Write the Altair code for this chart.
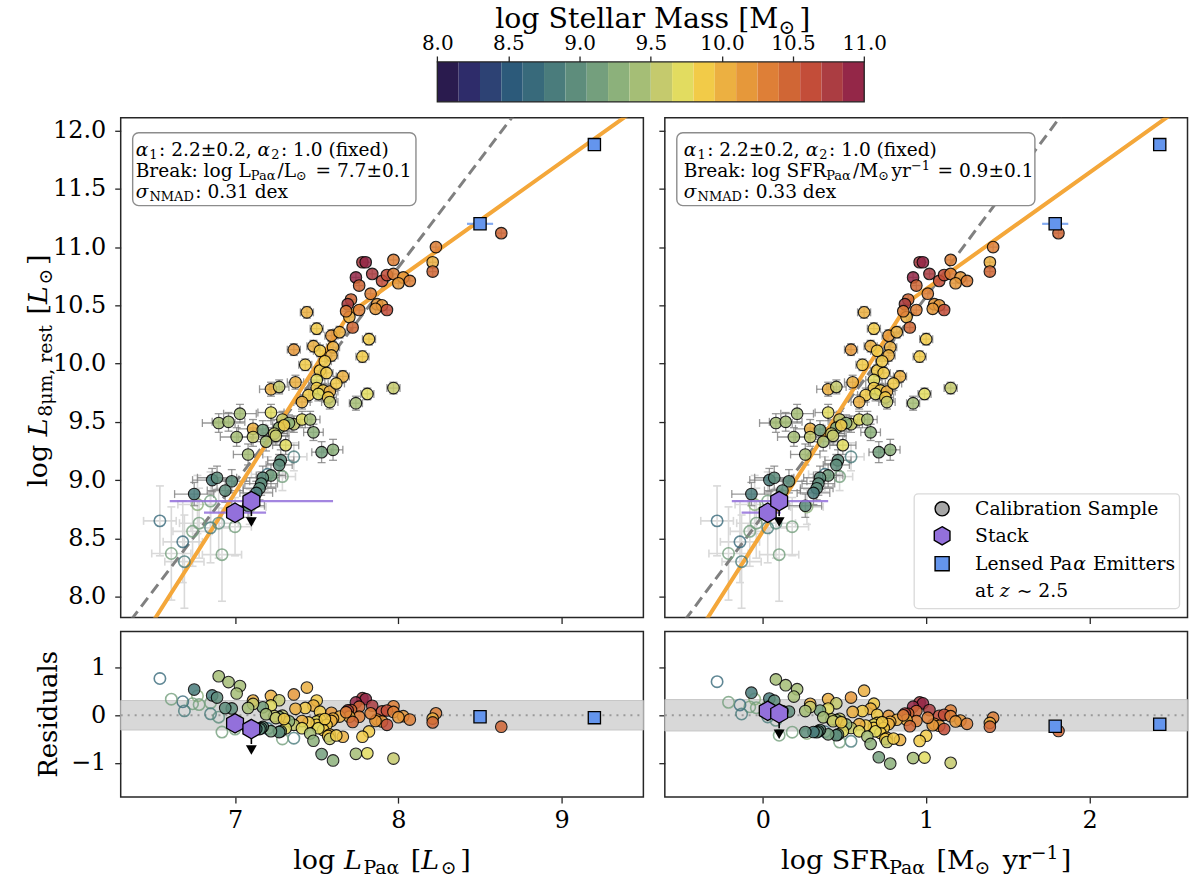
import glob
import struct

import altair as alt
import numpy as np
import pandas as pd

FONT = "DejaVu Serif"

# ---------------------------------------------------------------- colour map
# stellar-mass colour bar: 20 discrete steps between 8.0 and 11.0
MASS_RANGE = [8.0, 11.0]
MASS_COLORS = ["#2a1b4e", "#2e2c6a", "#2d4274", "#2c5a7a", "#386a7b", "#4a7c7c",
               "#5e8d7c", "#749f7d", "#8cb17b", "#a5be76", "#c5ca6d", "#e2dc60",
               "#f2cb48", "#ecb041", "#e6983a", "#de7f37", "#d06635", "#c34d39",
               "#ab3d42", "#942748"]
MASS_TICKS = [8.0, 8.5, 9.0, 9.5, 10.0, 10.5, 11.0]

# ---------------------------------------------------------------- calibration sample
log_lpa = [8.63, 8.23, 8.21, 8.21, 7.78, 7.80, 7.97, 7.84, 7.74, 7.76,
           7.90, 7.93, 7.97, 8.03, 8.07, 8.00, 7.71, 7.69, 7.76, 7.87,
           7.90, 7.93, 7.86, 7.70, 7.72, 7.44, 7.50, 7.59, 7.64, 7.82,
           7.60, 7.48, 7.52, 7.36, 7.59, 7.78, 7.43, 7.52, 7.56, 7.66,
           7.50, 7.37, 7.22, 7.27, 7.50, 7.54, 7.58, 7.45, 7.51, 7.57,
           7.58, 7.41, 7.74, 7.81, 7.97, 7.22, 7.03, 6.90, 6.96, 7.29,
           7.36, 7.41, 7.46, 7.33, 7.11, 7.17, 7.27, 7.24, 7.01, 7.11,
           7.19, 7.48, 7.31, 7.08, 7.53, 7.60, 7.28, 7.27, 7.22, 7.17,
           7.16, 7.15, 7.13, 6.86, 6.89, 6.98, 6.94, 6.75, 7.08, 7.25,
           7.30, 7.62, 7.55, 7.68, 7.83,
           6.54, 6.85, 6.77, 6.78, 6.74, 6.85, 6.90, 7.00, 6.68, 6.61,
           6.69, 6.92, 7.36, 7.29, 7.09, 7.20]
log_l8 = [11.12, 11.00, 10.87, 10.79, 10.87, 10.87, 10.89, 10.77, 10.74, 10.67,
          10.71, 10.76, 10.77, 10.74, 10.71, 10.69, 10.55, 10.51, 10.46, 10.51,
          10.50, 10.46, 10.47, 10.40, 10.31, 10.44, 10.30, 10.24, 10.27, 10.21,
          10.14, 10.15, 10.11, 10.12, 10.07, 10.06, 9.99, 9.94, 9.92, 9.89,
          9.86, 9.84, 9.78, 9.80, 9.79, 9.77, 9.76, 9.73, 9.74, 9.71,
          9.67, 9.67, 9.66, 9.74, 9.79, 9.58, 9.57, 9.49, 9.50, 9.52,
          9.48, 9.52, 9.52, 9.49, 9.44, 9.43, 9.45, 9.40, 9.37, 9.37,
          9.33, 9.41, 9.30, 9.22, 9.24, 9.26, 9.17, 9.13, 9.04, 9.02,
          8.97, 8.93, 8.89, 9.00, 9.02, 8.99, 8.91, 8.88, 8.78, 9.38,
          9.47, 9.83, 10.02, 10.45, 10.60,
          8.65, 8.82, 8.79, 8.63, 8.56, 8.59, 8.63, 8.60, 8.47, 8.37,
          8.30, 8.36, 9.20, 9.03, 8.77, 9.05]
log_mass = [10.45, 10.30, 10.05, 10.50, 10.75, 10.90, 10.30, 10.75, 10.90, 10.45,
            10.60, 10.60, 10.30, 10.20, 10.30, 10.20, 10.45, 10.75, 10.30, 10.15,
            10.15, 10.60, 10.20, 10.05, 10.45, 10.00, 9.90, 10.15, 10.05, 9.90,
            10.05, 10.05, 9.90, 10.15, 10.00, 9.85, 9.80, 9.85, 9.80, 10.00,
            9.65, 10.00, 10.00, 9.60, 9.80, 9.85, 10.00, 9.85, 9.70, 9.85,
            9.55, 10.00, 9.40, 9.75, 9.60, 9.75, 9.45, 9.45, 9.45, 9.60,
            9.60, 9.75, 9.40, 9.30, 10.00, 9.15, 9.30, 9.60, 9.45, 9.55,
            9.45, 9.30, 9.75, 9.45, 9.10, 9.30, 9.00, 9.00, 9.10, 9.00,
            9.00, 9.00, 8.85, 8.85, 9.00, 9.00, 9.00, 8.85, 9.00, 9.55,
            9.80, 9.90, 9.90, 10.30, 10.30,
            8.70, 9.10, 9.30, 9.10, 9.10, 8.80, 8.95, 9.10, 8.70, 9.10,
            8.80, 9.10, 8.80, 9.10, 9.20, 8.70]
# 1 = drawn as an open marker
is_open = [0] * 95 + [1] * 16
err_lpa = [0.03] * 25 + [0.04] * 15 + [0.05, 0.05, 0.07, 0.06, 0.05, 0.05, 0.05, 0.05, 0.05, 0.05,
                                        0.05, 0.05, 0.04, 0.04, 0.04, 0.08, 0.10, 0.10, 0.10, 0.07,
                                        0.07, 0.06, 0.06, 0.07, 0.09, 0.09, 0.08, 0.08, 0.10, 0.09,
                                        0.09, 0.06, 0.08, 0.09, 0.06, 0.06, 0.08, 0.08, 0.09, 0.10,
                                        0.10, 0.10, 0.10, 0.12, 0.12, 0.11, 0.11, 0.12, 0.10, 0.08,
                                        0.07, 0.05, 0.04, 0.03, 0.03] + \
          [0.10, 0.12, 0.12, 0.12, 0.12, 0.12, 0.12, 0.10, 0.12, 0.12,
           0.12, 0.12, 0.08, 0.08, 0.10, 0.10]
err_l8 = [0.04] * 25 + [0.05] * 15 + [0.06, 0.06, 0.06, 0.06, 0.06, 0.06, 0.06, 0.06, 0.06, 0.06,
                                       0.06, 0.06, 0.06, 0.05, 0.05, 0.07, 0.08, 0.08, 0.08, 0.07,
                                       0.07, 0.07, 0.07, 0.07, 0.08, 0.08, 0.07, 0.08, 0.08, 0.08,
                                       0.08, 0.07, 0.08, 0.09, 0.09, 0.09, 0.09, 0.09, 0.10, 0.10,
                                       0.10, 0.10, 0.10, 0.10, 0.10, 0.10, 0.10, 0.10, 0.10, 0.08,
                                       0.07, 0.06, 0.05, 0.04, 0.04] + \
         [0.30, 0.25, 0.25, 0.30, 0.30, 0.30, 0.30, 0.25, 0.35, 0.40,
          0.40, 0.40, 0.12, 0.12, 0.15, 0.15]
# log L_Pa-alpha -> log SFR_Pa-alpha conversion for the calibration galaxies
SFR_OFFSET = 6.82

# ---------------------------------------------------------------- stacks
stack_lpa = [7.00, 7.10]
stack_lpa_lo = [6.81, 6.60]
stack_lpa_hi = [7.19, 7.60]
stack_sfr = [0.03, 0.10]
stack_sfr_lo = [-0.13, -0.19]
stack_sfr_hi = [0.11, 0.40]
stack_l8 = [8.72, 8.82]
stack_upper = [0, 1]

# ---------------------------------------------------------------- lensed emitters at z~2.5
lens_lpa = [8.50, 9.20]
lens_lpa_err = [0.08, 0.0]
lens_sfr = [1.79, 2.43]
lens_sfr_err = [0.08, 0.0]
lens_l8 = [11.20, 11.88]

# ---------------------------------------------------------------- fits
# broken power law: slope a1 below the break (bx, by), a2 above
FIT_L = {"bx": 7.7, "by": 10.43, "a1": 2.2, "a2": 1.0, "sigma": 0.31}
FIT_S = {"bx": 0.9, "by": 10.54, "a1": 2.2, "a2": 1.0, "sigma": 0.33}
# single power law drawn dashed: slope and one point on it
DASH_L = {"slope": 1.85, "x0": 6.38, "y0": 7.83}
DASH_S = {"slope": 1.88, "x0": -0.46, "y0": 7.83}

# ---------------------------------------------------------------- layout
W, H_TOP, H_RES = 524, 501, 166
Y_DOM = [7.82, 12.11]
Y_TICKS = [8.0, 8.5, 9.0, 9.5, 10.0, 10.5, 11.0, 11.5, 12.0]
R_DOM = [-1.72, 1.76]
COL_GAP = 17.5
CB_W, CB_H = 2 * W + COL_GAP, 40
CB_PIX = [317.4, 745.4]          # where 8.0 and 11.0 fall along the bar chart
HEX = "M0,-1L0.866,-0.5L0.866,0.5L0,1L-0.866,0.5L-0.866,-0.5Z"
PURPLE, BLUE, ORANGE = "#9370DB", "#6495ED", "#f4a73a"
TXT_BOX, TXT_LEG, TXT_TITLE, TXT_CB = 18.6, 18.8, 27, 28.5

ONE = pd.DataFrame({"_": [0]})


# ---------------------------------------------------------------- text metrics
class FontWidths:
    """Advance widths (in em) read from a TrueType file's hmtx/cmap tables."""

    def __init__(self, path):
        d = open(path, "rb").read()
        self.d = d
        n = struct.unpack(">H", d[4:6])[0]
        tab = {}
        for i in range(n):
            tag, _, off, ln = struct.unpack(">4sIII", d[12 + 16 * i:28 + 16 * i])
            tab[tag.decode("latin-1")] = off
        self.upem = struct.unpack(">H", d[tab["head"] + 18:tab["head"] + 20])[0]
        nhm = struct.unpack(">H", d[tab["hhea"] + 34:tab["hhea"] + 36])[0]
        hm = tab["hmtx"]
        self.adv = [struct.unpack(">H", d[hm + 4 * i:hm + 4 * i + 2])[0] for i in range(nhm)]
        cm = tab["cmap"]
        nsub = struct.unpack(">H", d[cm + 2:cm + 4])[0]
        self.seg = None
        for i in range(nsub):
            pid, eid, off = struct.unpack(">HHI", d[cm + 4 + 8 * i:cm + 12 + 8 * i])
            sub = cm + off
            if pid == 3 and eid == 1 and struct.unpack(">H", d[sub:sub + 2])[0] == 4:
                sx2 = struct.unpack(">H", d[sub + 6:sub + 8])[0]
                ns = sx2 // 2
                e0 = sub + 14
                s0 = e0 + sx2 + 2
                d0 = s0 + sx2
                r0 = d0 + sx2
                self.seg = (struct.unpack(f">{ns}H", d[e0:e0 + sx2]),
                            struct.unpack(f">{ns}H", d[s0:s0 + sx2]),
                            struct.unpack(f">{ns}h", d[d0:d0 + sx2]),
                            struct.unpack(f">{ns}H", d[r0:r0 + sx2]), r0)
                break

    def glyph(self, c):
        ends, starts, deltas, ros, r0 = self.seg
        for k, e in enumerate(ends):
            if c <= e:
                if c < starts[k]:
                    return 0
                if ros[k] == 0:
                    return (c + deltas[k]) & 0xFFFF
                a = r0 + 2 * k + ros[k] + 2 * (c - starts[k])
                g = struct.unpack(">H", self.d[a:a + 2])[0]
                return (g + deltas[k]) & 0xFFFF if g else 0
        return 0

    def width(self, ch):
        if self.seg is None:
            return None
        g = self.glyph(ord(ch))
        if not g:
            return None
        return self.adv[min(g, len(self.adv) - 1)] / self.upem


def load_font(name):
    for root in ("/usr/share/fonts", "/usr/local/share/fonts", "/usr/share/fonts-dejavu",
                 "/usr/lib", "/opt"):
        hits = glob.glob(f"{root}/**/{name}", recursive=True)
        if hits:
            try:
                return FontWidths(hits[0])
            except Exception:
                return None
    return None


F_REG = load_font("DejaVuSerif.ttf")
F_ITA = load_font("DejaVuSerif-Italic.ttf")
F_SANS = load_font("DejaVuSans.ttf")

EM = {" ": 0.318, ".": 0.318, ",": 0.318, ":": 0.337, "(": 0.390, ")": 0.390,
      "[": 0.390, "]": 0.390, "/": 0.337, "=": 0.838, "±": 0.838, "−": 0.838,
      "~": 0.838, "-": 0.338, "α": 0.66, "σ": 0.63, "μ": 0.66, "⊙": 0.838}


def char_width(c, italic):
    for f in ((F_ITA if italic else F_REG), F_REG, F_SANS):
        if f is not None:
            w = f.width(c)
            if w is not None:
                return w
    if c.isdigit():
        return 0.636
    return EM.get(c, 0.6)


def seg_width(t, size, italic=False):
    return sum(char_width(c, italic) for c in t) * size


def rich_text(segments, x, y, size, align="left", angle=0, color="black"):
    """Text with sub/superscripts built from several text marks."""
    sizes = [size * 0.7 if k in ("sub", "sup") else size for _, k in segments]
    widths = []
    for (t, k), s in zip(segments, sizes):
        w = seg_width(t, s, k == "i")
        if k in ("sub", "sup"):
            w += 0.08 * size          # thin space after a script, as in typeset math
        if k == "i" or "⊙" in t:
            w += 0.06 * size          # italic overhang / symbol side bearing
        widths.append(w)
    adv = -sum(widths) / 2 if align == "center" else 0.0
    out = []
    for (t, k), s, w in zip(segments, sizes, widths):
        lead = seg_width(t[: len(t) - len(t.lstrip())], s)
        shift = {"sub": 0.2 * size, "sup": -0.36 * size}.get(k, 0.0)
        a = adv + lead
        if angle == 0:
            px, py = x + a, y + shift
        else:
            px, py = x + shift, y - a
        out.append(
            alt.Chart(ONE).mark_text(
                text=t.strip(), font=FONT, fontSize=s,
                fontStyle="italic" if k == "i" else "normal",
                align="left", baseline="alphabetic", angle=angle, color=color)
            .encode(x=alt.value(px), y=alt.value(py)))
        adv += w
    return out


def model(x, p):
    x = np.asarray(x, dtype=float)
    return np.where(x < p["bx"], p["by"] + p["a1"] * (x - p["bx"]),
                    p["by"] + p["a2"] * (x - p["bx"]))


color_scale = alt.Scale(type="threshold",
                        domain=list(np.linspace(*MASS_RANGE, len(MASS_COLORS) + 1)[1:-1]),
                        range=MASS_COLORS)

calib = pd.DataFrame({"lpa": log_lpa, "l8": log_l8, "mass": log_mass,
                      "open": is_open, "ex": err_lpa, "ey": err_l8})
calib["sfr"] = calib["lpa"] - SFR_OFFSET

BOX_LINES_L = [
    [("α", "i"), ("1", "sub"), (": 2.2±0.2, ", "n"), ("α", "i"), ("2", "sub"), (": 1.0 (fixed)", "n")],
    [("Break: log L", "n"), ("Paα", "sub"), ("/L", "n"), ("⊙", "sub"), (" = 7.7±0.1", "n")],
    [("σ", "i"), ("NMAD", "sub"), (": 0.31 dex", "n")],
]
BOX_LINES_S = [
    [("α", "i"), ("1", "sub"), (": 2.2±0.2, ", "n"), ("α", "i"), ("2", "sub"), (": 1.0 (fixed)", "n")],
    [("Break: log SFR", "n"), ("Paα", "sub"), ("/M", "n"), ("⊙", "sub"), ("yr", "n"), ("−1", "sup"),
     (" = 0.9±0.1", "n")],
    [("σ", "i"), ("NMAD", "sub"), (": 0.33 dex", "n")],
]

PANEL = {
    "L": {"x": "lpa", "dom": [6.3, 9.5], "ticks": [7, 8, 9], "fit": FIT_L, "dash": DASH_L,
          "sx": stack_lpa, "slo": stack_lpa_lo, "shi": stack_lpa_hi,
          "lx": lens_lpa, "lerr": lens_lpa_err, "box": BOX_LINES_L, "box_w": 284,
          "text_x": 15, "first": True,
          "xtitle": [("log ", "n"), ("L", "i"), ("Paα", "sub"), (" [", "n"), ("L", "i"),
                     ("⊙", "sub"), ("]", "n")]},
    "S": {"x": "sfr", "dom": [-0.6, 2.6], "ticks": [0, 1, 2], "fit": FIT_S, "dash": DASH_S,
          "sx": stack_sfr, "slo": stack_sfr_lo, "shi": stack_sfr_hi,
          "lx": lens_sfr, "lerr": lens_sfr_err, "box": BOX_LINES_S, "box_w": 359,
          "text_x": 19, "first": False,
          "xtitle": [("log SFR", "n"), ("Paα", "sub"), (" [M", "n"), ("⊙", "sub"), (" yr", "n"),
                     ("−1", "sup"), ("]", "n")]},
}


def errorbar_layers(d, X, Y, color, width, opacity, cap=8):
    d = d.assign(xlo=d.x - d.ex, xhi=d.x + d.ex, ylo=d.yv - d.ey, yhi=d.yv + d.ey)
    ycaps = pd.concat([d[["x"]].assign(c=d.ylo), d[["x"]].assign(c=d.yhi)])
    xcaps = pd.concat([d[["yv"]].assign(c=d.xlo), d[["yv"]].assign(c=d.xhi)])
    base = {"color": color, "opacity": opacity}
    return [
        alt.Chart(d).mark_rule(strokeWidth=width, **base).encode(x=X("xlo"), x2=alt.X2("xhi"), y=Y("yv")),
        alt.Chart(d).mark_rule(strokeWidth=width, **base).encode(x=X("x"), y=Y("ylo"), y2=alt.Y2("yhi")),
        alt.Chart(ycaps).mark_tick(orient="horizontal", size=cap, thickness=width, **base)
        .encode(x=X("x"), y=Y("c")),
        alt.Chart(xcaps).mark_tick(orient="vertical", size=cap, thickness=width, **base)
        .encode(x=X("c"), y=Y("yv")),
    ]


def point_layers(d, X, Y, ycol):
    opn = d[d.open == 1]
    fil = d[d.open == 0]
    return [
        alt.Chart(opn).mark_point(shape="circle", filled=False, size=130, strokeWidth=1.6, opacity=0.8)
        .encode(x=X("x"), y=Y(ycol), color=alt.Color("mass:Q", scale=color_scale, legend=None)),
        alt.Chart(fil).mark_circle(size=135, stroke="black", strokeWidth=1.1, opacity=0.85)
        .encode(x=X("x"), y=Y(ycol), color=alt.Color("mass:Q", scale=color_scale, legend=None)),
    ]


def stack_layers(s, X, Y, ycol, arrow_px):
    up = s[s.upper == 1]
    return [
        alt.Chart(s).mark_rule(color=PURPLE, strokeWidth=2.2, opacity=0.85)
        .encode(x=X("lo"), x2=alt.X2("hi"), y=Y(ycol)),
        alt.Chart(up).mark_rule(color="black", strokeWidth=1.6, y2Offset=arrow_px - 6)
        .encode(x=X("x"), y=Y(ycol), y2=alt.Y2(ycol)),
        alt.Chart(up).mark_point(shape="triangle-down", filled=True, color="black", size=120,
                                 opacity=1, yOffset=arrow_px)
        .encode(x=X("x"), y=Y(ycol)),
        alt.Chart(s).mark_point(shape=HEX, filled=True, fill=PURPLE, stroke="black", strokeWidth=1.3,
                                size=380, opacity=1)
        .encode(x=X("x"), y=Y(ycol)),
    ]


def lens_layers(l, X, Y, ycol):
    e = l[l.err > 0]
    return [
        alt.Chart(e.assign(lo=e.x - e.err, hi=e.x + e.err))
        .mark_rule(color=BLUE, strokeWidth=2.2, opacity=0.8)
        .encode(x=X("lo"), x2=alt.X2("hi"), y=Y(ycol)),
        alt.Chart(l).mark_square(size=150, color=BLUE, stroke="black", strokeWidth=1.3, opacity=1)
        .encode(x=X("x"), y=Y(ycol)),
    ]


def panel_frames(key):
    p = PANEL[key]
    d = calib.assign(x=calib[p["x"]], yv=calib["l8"])
    d["res"] = d.yv - model(d.x, p["fit"])
    s = pd.DataFrame({"x": p["sx"], "lo": p["slo"], "hi": p["shi"], "yv": stack_l8, "upper": stack_upper})
    s["res"] = s.yv - model(s.x, p["fit"])
    l = pd.DataFrame({"x": p["lx"], "err": p["lerr"], "yv": lens_l8})
    l["res"] = l.yv - model(l.x, p["fit"])
    return d, s, l


def left_anchor():
    # keeps the left extent of both rows identical so the plot frames line up
    return alt.Chart(ONE).mark_rule(opacity=0).encode(x=alt.value(-104), x2=alt.value(-103), y=alt.value(10))


def top_panel(key):
    p = PANEL[key]
    d, s, l = panel_frames(key)
    xs = alt.Scale(domain=p["dom"], nice=False, zero=False)
    ys = alt.Scale(domain=Y_DOM, nice=False, zero=False)
    xax = alt.Axis(values=p["ticks"], labels=False, title=None, tickSize=6, domain=False, grid=False)
    yax = alt.Axis(values=Y_TICKS, format=".1f", labels=p["first"], title=None, tickSize=6,
                   domain=False, grid=False, labelPadding=9)
    X = lambda f: alt.X(f"{f}:Q", scale=xs, axis=xax)
    Y = lambda f: alt.Y(f"{f}:Q", scale=ys, axis=yax)

    fit = p["fit"]
    xf = [p["dom"][0], fit["bx"], p["dom"][1]]
    fit_df = pd.DataFrame({"x": xf, "yv": model(xf, fit)})
    dp = p["dash"]
    dash_df = pd.DataFrame({"x": p["dom"]})
    dash_df["yv"] = dp["y0"] + dp["slope"] * (dash_df.x - dp["x0"])

    layers = []
    layers += errorbar_layers(d[d.open == 1], X, Y, "#d9d9d9", 1.6, 1.0)
    layers += errorbar_layers(d[d.open == 0], X, Y, "#7f7f7f", 1.3, 0.8)
    layers.append(alt.Chart(dash_df).mark_line(color="#808080", strokeWidth=3, strokeDash=[11, 6], clip=True)
                  .encode(x=X("x"), y=Y("yv")))
    layers.append(alt.Chart(fit_df).mark_line(color=ORANGE, strokeWidth=4, clip=True)
                  .encode(x=X("x"), y=Y("yv")))
    layers += point_layers(d, X, Y, "yv")
    layers += stack_layers(s, X, Y, "yv", 21)
    layers += lens_layers(l, X, Y, "yv")

    # fit summary box
    layers.append(alt.Chart(ONE).mark_rect(fill="white", stroke="#8c8c8c", strokeWidth=1.4, cornerRadius=6)
                  .encode(x=alt.value(12), x2=alt.value(12 + p["box_w"]), y=alt.value(15), y2=alt.value(88)))
    for i, line in enumerate(p["box"]):
        layers += rich_text(line, p["text_x"], 38 + 21 * i, TXT_BOX)

    if key == "L":
        layers += rich_text([("log ", "n"), ("L", "i"), ("8μm, rest", "sub"), (" [", "n"), ("L", "i"),
                             ("⊙", "sub"), ("]", "n")], -74, H_TOP / 2 + 3, TXT_TITLE,
                            align="center", angle=270)
        layers.append(left_anchor())
    else:
        # legend
        layers.append(alt.Chart(ONE).mark_rect(fill="white", stroke="#d6d6d6", strokeWidth=1.3,
                                               cornerRadius=4, opacity=0.9)
                      .encode(x=alt.value(250), x2=alt.value(516), y=alt.value(377), y2=alt.value(492)))
        mx, rows = 278, [392, 419, 447, 474]
        layers.append(alt.Chart(ONE).mark_circle(size=200, color="#a6a6a6", stroke="black", strokeWidth=1.4,
                                                 opacity=1).encode(x=alt.value(mx), y=alt.value(rows[0])))
        layers.append(alt.Chart(ONE).mark_point(shape=HEX, filled=True, fill=PURPLE, stroke="black",
                                                strokeWidth=1.4, size=330, opacity=1)
                      .encode(x=alt.value(mx), y=alt.value(rows[1])))
        layers.append(alt.Chart(ONE).mark_square(size=200, color=BLUE, stroke="black", strokeWidth=1.4,
                                                 opacity=1).encode(x=alt.value(mx), y=alt.value(rows[2])))
        tx = 311
        layers += rich_text([("Calibration Sample", "n")], tx, rows[0] + 6, TXT_LEG)
        layers += rich_text([("Stack", "n")], tx, rows[1] + 6, TXT_LEG)
        layers += rich_text([("Lensed Pa", "n"), ("α", "i"), (" Emitters", "n")], tx, rows[2] + 6, TXT_LEG)
        layers += rich_text([("at ", "n"), ("z", "i"), (" ~ 2.5", "n")], tx, rows[3] + 6, TXT_LEG)

    return alt.layer(*layers).properties(width=W, height=H_TOP)


def res_panel(key):
    p = PANEL[key]
    d, s, l = panel_frames(key)
    xs = alt.Scale(domain=p["dom"], nice=False, zero=False)
    ys = alt.Scale(domain=R_DOM, nice=False, zero=False)
    xax = alt.Axis(values=p["ticks"], format="d", title=None, tickSize=6, domain=False, grid=False)
    yax = alt.Axis(values=[-1, 0, 1], format="d", labels=p["first"], title=None, tickSize=6,
                   domain=False, grid=False, labelPadding=9)
    X = lambda f: alt.X(f"{f}:Q", scale=xs, axis=xax)
    Y = lambda f: alt.Y(f"{f}:Q", scale=ys, axis=yax)
    sig = p["fit"]["sigma"]
    band = pd.DataFrame({"lo": [-sig], "hi": [sig], "z": [0.0]})

    layers = [
        alt.Chart(band).mark_rect(color="#d4d4d4", stroke="#c2c2c2", strokeWidth=1, opacity=0.9)
        .encode(x=alt.value(0), x2=alt.value(W), y=Y("lo"), y2=alt.Y2("hi")),
        alt.Chart(band).mark_rule(color="#9a9a9a", strokeWidth=2, strokeDash=[2, 5])
        .encode(x=alt.value(0), x2=alt.value(W), y=Y("z")),
    ]
    layers += point_layers(d, X, Y, "res")
    s2 = s.assign(lo=s.x, hi=s.x)
    layers += stack_layers(s2, X, Y, "res", 21)[1:]
    layers += lens_layers(l.assign(err=0.0), X, Y, "res")
    layers += rich_text(p["xtitle"], W / 2, H_RES + 72, TXT_TITLE, align="center")
    if key == "L":
        layers += rich_text([("Residuals", "n")], -64, H_RES / 2, 26, align="center", angle=270)
        layers.append(left_anchor())
    return alt.layer(*layers).properties(width=W, height=H_RES)


# ---------------------------------------------------------------- colour bar
span = MASS_RANGE[1] - MASS_RANGE[0]
px_per = (CB_PIX[1] - CB_PIX[0]) / span
cb_lo = MASS_RANGE[0] - CB_PIX[0] / px_per
cb_hi = MASS_RANGE[1] + (CB_W - CB_PIX[1]) / px_per
edges = np.linspace(*MASS_RANGE, len(MASS_COLORS) + 1)
cb_df = pd.DataFrame({"lo": edges[:-1], "hi": edges[1:], "mid": (edges[:-1] + edges[1:]) / 2})
cb_x = alt.Scale(domain=[cb_lo, cb_hi], nice=False, zero=False)
cb_ax = alt.Axis(orient="top", values=MASS_TICKS, format=".1f", title=None, domain=False, grid=False,
                 tickSize=6, labelFontSize=20, labelFlush=False, labelOverlap=False, labelPadding=2)
cbar_layers = [
    alt.Chart(cb_df).mark_rect().encode(
        x=alt.X("lo:Q", scale=cb_x, axis=cb_ax), x2=alt.X2("hi"),
        y=alt.value(0), y2=alt.value(CB_H),
        color=alt.Color("mid:Q", scale=color_scale, legend=None)),
    alt.Chart(pd.DataFrame({"lo": [MASS_RANGE[0]], "hi": [MASS_RANGE[1]]}))
    .mark_rect(fillOpacity=0, stroke="#222222", strokeWidth=1.3)
    .encode(x=alt.X("lo:Q", scale=cb_x, axis=cb_ax), x2=alt.X2("hi"), y=alt.value(0), y2=alt.value(CB_H)),
]
cb_mid = (CB_PIX[0] + CB_PIX[1]) / 2
cbar_layers += rich_text([("log Stellar Mass [M", "n"), ("⊙", "sub"), ("]", "n")], cb_mid + 2, -34, TXT_CB,
                         align="center")
cbar_layers.append(left_anchor())
cbar = alt.layer(*cbar_layers).properties(
    width=CB_W, height=CB_H, view=alt.ViewBackground(stroke="transparent", strokeWidth=0))

left_col = alt.vconcat(top_panel("L"), res_panel("L"), spacing=5).resolve_scale(x="independent", y="independent")
right_col = alt.vconcat(top_panel("S"), res_panel("S"), spacing=5).resolve_scale(x="independent", y="independent")
grid = alt.hconcat(left_col, right_col, spacing=COL_GAP - 6).resolve_scale(x="independent", y="independent")

chart = (
    alt.vconcat(cbar, grid, spacing=14)
    .resolve_scale(x="independent", y="independent")
    .properties(padding={"left": 16, "top": 4, "right": 1, "bottom": 2}, background="white")
    .configure_view(stroke="#262626", strokeWidth=1.5)
    .configure_axis(labelFont=FONT, labelFontSize=24, labelColor="black", tickColor="#262626",
                    tickWidth=1.3, labelPadding=5)
)

chart.save("out.html", embed_options={"renderer": "svg", "actions": False})
